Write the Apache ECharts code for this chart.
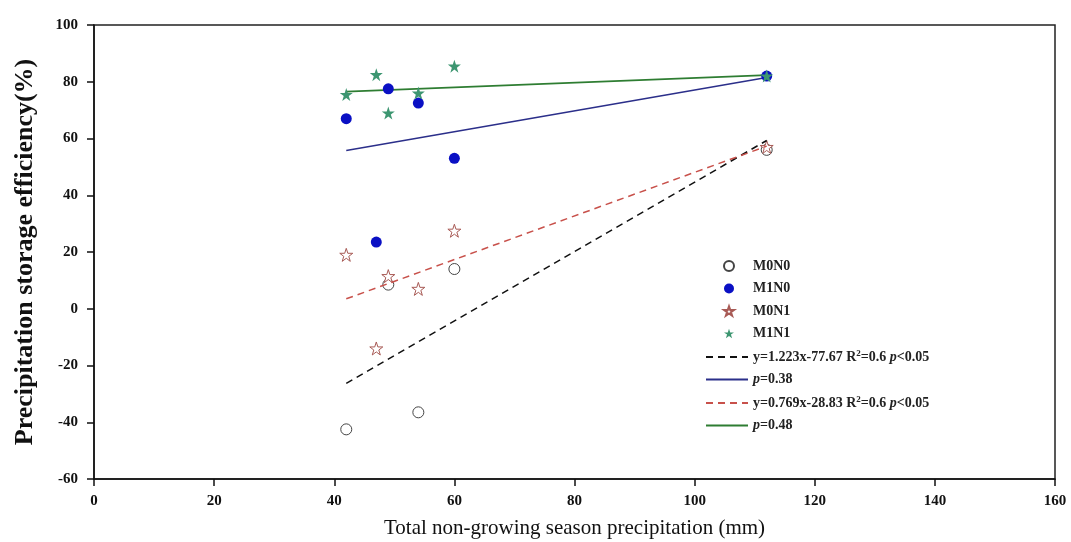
<!DOCTYPE html>
<html>
<head>
<meta charset="utf-8">
<script src="https://cdn.jsdelivr.net/npm/echarts@6/dist/echarts.min.js"></script>
<style>
  html, body { margin: 0; padding: 0; background: #fff; }
  #chart { width: 1071px; height: 542px; }
</style>
</head>
<body>
<div id="chart"></div>
<script>
// points: [precipitation (mm), efficiency (%)]
var m0n0 = [[42, -42.5], [49, 8.5], [54, -36.5], [60, 14], [112, 56]];
var m1n0 = [[42, 67], [47, 23.5], [49, 77.5], [54, 72.5], [60, 53], [112, 82]];
var m0n1 = [[42, 19], [47, -14], [49, 11.5], [54, 7], [60, 27.5], [112, 57]];
var m1n1 = [[42, 75.5], [47, 82.5], [49, 69], [54, 76], [60, 85.5], [112, 82]];

// fitted lines, end points
var fitM0N0 = [[42, -26.3], [112, 59.3]];
var fitM1N0 = [[42, 55.8], [112, 81.5]];
var fitM0N1 = [[42, 3.5], [112, 57.3]];
var fitM1N1 = [[42, 76.5], [112, 82.3]];

var lineNames = ['fit1', 'fit2', 'fit3', 'fit4'];
var lineLabels = {
  fit1: '{n|y=1.223x-77.67 R}{sup|2}{n|=0.6 }{i|p}{n|<0.05}',
  fit2: '{i|p}{n|=0.38}',
  fit3: '{n|y=0.769x-28.83 R}{sup|2}{n|=0.6 }{i|p}{n|<0.05}',
  fit4: '{i|p}{n|=0.48}'
};

var star = 'path://M50,0 L61.8,35.1 L98.9,35.1 L68.9,56.9 L80.3,92.1 L50,70.4 L19.7,92.1 L31.1,56.9 L1.1,35.1 L38.2,35.1 Z';
var serif = '"Liberation Serif", "DejaVu Serif", serif';

var chart = echarts.init(document.getElementById('chart'));
chart.setOption({
  animation: false,
  backgroundColor: '#fff',
  grid: {
    left: 94, right: 16, top: 25, bottom: 63,
    outerBoundsMode: 'none',
    show: true, borderColor: '#222', borderWidth: 1.5
  },
  legend: [{
    data: ['M0N0', 'M1N0', 'M0N1', 'M1N1'],
    orient: 'vertical',
    left: 723, top: 259, padding: 0,
    itemGap: 8.5, itemWidth: 10, itemHeight: 10,
    textStyle: { fontFamily: serif, fontSize: 14, fontWeight: 'bold', color: '#222', padding: [0, 0, 0, 14] }
  }, {
    data: lineNames,
    orient: 'vertical',
    left: 705, top: 349, padding: 0,
    itemGap: 8.5, itemWidth: 42, itemHeight: 14,
    itemStyle: { opacity: 0 },
    formatter: function (name) { return lineLabels[name]; },
    textStyle: {
      fontFamily: serif, fontSize: 14, color: '#222',
      rich: {
        n: { fontFamily: serif, fontSize: 14, fontWeight: 'bold', color: '#222' },
        i: { fontFamily: serif, fontSize: 14, fontStyle: 'italic', fontWeight: 'bold', color: '#222' },
        sup: { fontFamily: serif, fontSize: 9, fontWeight: 'bold', color: '#222', verticalAlign: 'bottom', padding: [0, 0, 7, 0] }
      }
    }
  }],
  xAxis: {
    type: 'value',
    min: 0, max: 160, interval: 20,
    name: 'Total non-growing season precipitation (mm)',
    nameLocation: 'middle',
    nameGap: 39,
    nameTextStyle: { fontFamily: serif, fontSize: 21, color: '#111' },
    axisLine: { onZero: false, lineStyle: { color: '#111', width: 1.5 } },
    axisTick: { inside: false, length: 7, lineStyle: { color: '#111', width: 1.5 } },
    axisLabel: { fontFamily: serif, fontSize: 15, fontWeight: 'bold', color: '#111', margin: 15 },
    splitLine: { show: false }
  },
  yAxis: {
    type: 'value',
    min: -60, max: 100, interval: 20,
    name: 'Precipitation storage efficiency(%)',
    nameLocation: 'middle',
    nameGap: 56,
    nameTextStyle: { fontFamily: serif, fontSize: 26, fontWeight: 'bold', color: '#111' },
    axisLine: { onZero: false, lineStyle: { color: '#111', width: 1.5 } },
    axisTick: { inside: false, length: 7, lineStyle: { color: '#111', width: 1.5 } },
    axisLabel: { fontFamily: serif, fontSize: 15, fontWeight: 'bold', color: '#111', margin: 16 },
    splitLine: { show: false }
  },
  series: [
    {
      name: 'M0N0', type: 'scatter', data: m0n0,
      symbol: 'circle', symbolSize: 11,
      itemStyle: { color: '#fff', borderColor: '#444', borderWidth: 1, opacity: 1 }
    },
    {
      name: 'M1N0', type: 'scatter', data: m1n0,
      symbol: 'circle', symbolSize: 11,
      itemStyle: { color: '#0a10c4', opacity: 1 }, z: 3
    },
    {
      name: 'M0N1', type: 'scatter', data: m0n1,
      symbol: star, symbolSize: 13,
      itemStyle: { color: '#fff', borderColor: '#a85a55', borderWidth: 1, opacity: 1 }
    },
    {
      name: 'M1N1', type: 'scatter', data: m1n1,
      symbol: star, symbolSize: 13,
      itemStyle: { color: '#3d9671', opacity: 1 }, z: 3
    },
    {
      name: 'fit1', type: 'line', data: fitM0N0, symbol: 'none',
      lineStyle: { color: '#111', width: 1.5, type: [7, 5] },
      itemStyle: { color: '#111' }
    },
    {
      name: 'fit2', type: 'line', data: fitM1N0, symbol: 'none',
      lineStyle: { color: '#2b2f8a', width: 1.5 },
      itemStyle: { color: '#2b2f8a' }
    },
    {
      name: 'fit3', type: 'line', data: fitM0N1, symbol: 'none',
      lineStyle: { color: '#c8514b', width: 1.5, type: [7, 5] },
      itemStyle: { color: '#c8514b' }
    },
    {
      name: 'fit4', type: 'line', data: fitM1N1, symbol: 'none',
      lineStyle: { color: '#2e7d32', width: 1.8 },
      itemStyle: { color: '#2e7d32' }
    }
  ]
});
window.onresize = chart.resize;
</script>
</body>
</html>
